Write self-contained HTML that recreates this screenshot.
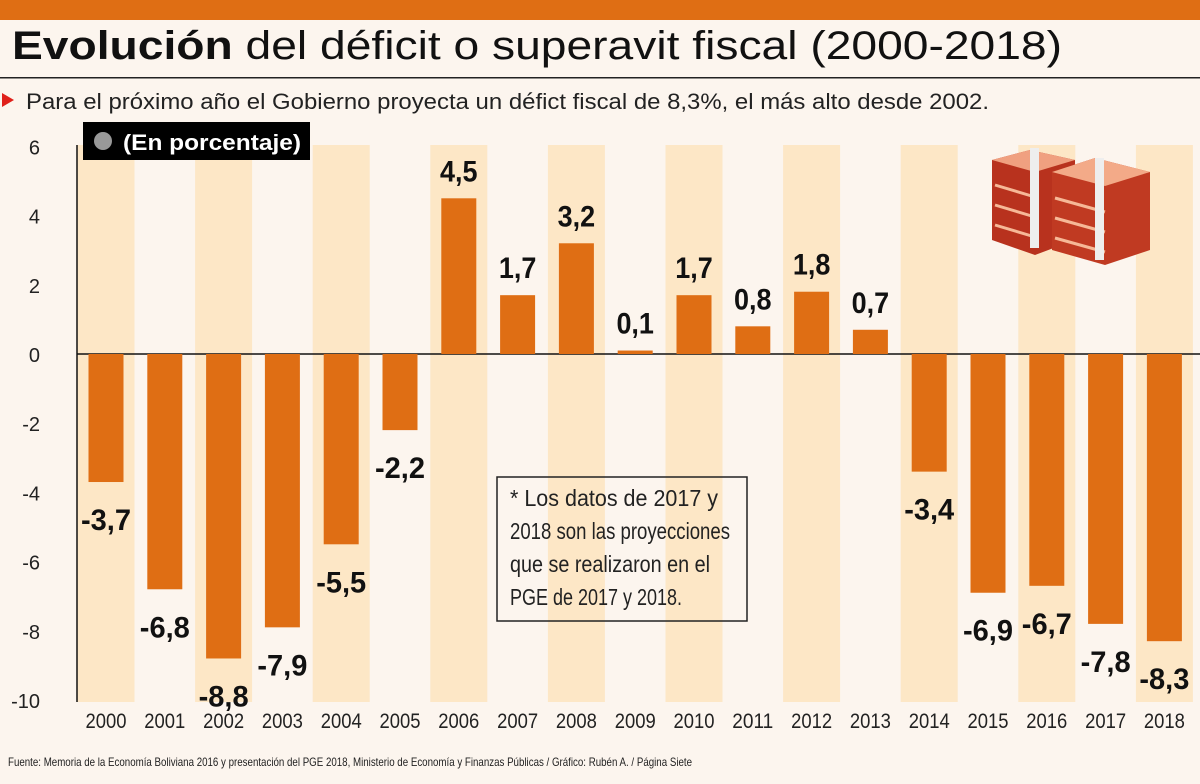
<!DOCTYPE html>
<html><head><meta charset="utf-8"><style>
body{margin:0;width:1200px;height:779px;background:#fcf5ee;overflow:hidden;font-family:"Liberation Sans",sans-serif}
</style></head><body>
<svg width="1200" height="779" xmlns="http://www.w3.org/2000/svg">
<rect x="0" y="0" width="1200" height="20" fill="#df6e14"/>
<text x="12" y="59" font-size="40" fill="#111" textLength="1050" lengthAdjust="spacingAndGlyphs"><tspan font-weight="bold">Evolución</tspan> del déficit o superavit fiscal (2000-2018)</text>
<rect x="0" y="77" width="1200" height="1.5" fill="#222"/>
<polygon points="2,93 14,100 2,107" fill="#e0201a"/>
<text x="26" y="109" font-size="22" fill="#222" textLength="963" lengthAdjust="spacingAndGlyphs">Para el próximo año el Gobierno proyecta un défict fiscal de 8,3%, el más alto desde 2002.</text>
<g id="stripes"></g>
<line x1="77" y1="145" x2="77" y2="702" stroke="#111" stroke-width="1.5"/>
<line x1="77" y1="354" x2="1200" y2="354" stroke="#111" stroke-width="1.5"/>
<g id="ticks"></g><g id="bars"></g>
<rect x="83" y="122" width="227" height="38" fill="#000"/>
<circle cx="103" cy="141" r="9" fill="#999"/>
<text x="123" y="150" font-size="22" font-weight="bold" fill="#fff" textLength="178" lengthAdjust="spacingAndGlyphs">(En porcentaje)</text>
<g>
<polygon points="992,160 1030,150 1075,160 1075,240 1035,255 992,240" fill="#b8321e"/>
<polygon points="992,160 1030,150 1075,160 1035,172" fill="#f0a080"/>
<polygon points="1052,172 1095,158 1150,172 1150,250 1105,265 1052,250" fill="#c03a22"/>
<polygon points="1052,172 1095,158 1150,172 1105,186" fill="#f3aa88"/>
<g stroke="#f6b897" stroke-width="3">
<line x1="995" y1="185" x2="1035" y2="197"/><line x1="995" y1="205" x2="1035" y2="217"/><line x1="995" y1="225" x2="1035" y2="237"/>
<line x1="1055" y1="198" x2="1105" y2="212"/><line x1="1055" y1="218" x2="1105" y2="232"/><line x1="1055" y1="238" x2="1105" y2="252"/>
</g>
<rect x="1030" y="148" width="9" height="100" fill="#eee"/>
<rect x="1095" y="158" width="9" height="102" fill="#eee"/>
</g>
<rect x="497" y="477" width="250" height="144" fill="none" stroke="#222" stroke-width="1.5"/>
<g font-size="23" fill="#222">
<text x="510" y="506" textLength="208" lengthAdjust="spacingAndGlyphs">* Los datos de 2017 y</text><text x="510" y="539" textLength="220" lengthAdjust="spacingAndGlyphs">2018 son las proyecciones</text>
<text x="510" y="572" textLength="200" lengthAdjust="spacingAndGlyphs">que se realizaron en el</text><text x="510" y="605" textLength="172" lengthAdjust="spacingAndGlyphs">PGE de 2017 y 2018.</text></g>
<text x="8" y="766" font-size="12" fill="#222" textLength="684" lengthAdjust="spacingAndGlyphs">Fuente: Memoria de la Economía Boliviana 2016 y presentación del PGE 2018, Ministerio de Economía y Finanzas Públicas / Gráfico: Rubén A. / Página Siete</text>
</svg>
<script>
const years=["2000","2001","2002","2003","2004","2005","2006","2007","2008","2009","2010","2011","2012","2013","2014","2015","2016","2017","2018"];
const values=[-3.7,-6.8,-8.8,-7.9,-5.5,-2.2,4.5,1.7,3.2,0.1,1.7,0.8,1.8,0.7,-3.4,-6.9,-6.7,-7.8,-8.3];
const yTicks=[6,4,2,0,-2,-4,-6,-8,-10];
const NS="http://www.w3.org/2000/svg";
const y=v=>354-v*34.6;
const cx=i=>106+58.8*i;
function mk(t,a,p){const e=document.createElementNS(NS,t);for(const k in a)e.setAttribute(k,a[k]);document.getElementById(p).appendChild(e);return e;}
years.forEach((yr,i)=>{
 if(i%2===0){const s=mk('rect',{x:cx(i)-28.5,y:145,width:57,height:557,fill:'#fde7c6'},'stripes');
 
 }
 const v=values[i];
 const b=mk('rect',{x:cx(i)-17.5,y:Math.min(y(v),y(0)),width:35,height:Math.abs(y(v)-y(0)),fill:'#df6e14'},'bars');
 
 
 const txt=v.toFixed(1).replace('.',',');
 const l=mk('text',{x:cx(i),y:v>=0?y(v)-17:y(v)+48,'text-anchor':'middle','font-size':'30','font-weight':'bold',fill:'#111',textLength:String(txt.length*12.5),lengthAdjust:'spacingAndGlyphs'},'bars');
 l.textContent=txt;
 
 
 const t=mk('text',{x:cx(i),y:728,'text-anchor':'middle','font-size':'21',fill:'#222',textLength:'41',lengthAdjust:'spacingAndGlyphs'},'ticks');
 t.textContent=yr;
 
 
});
yTicks.forEach(v=>{
 const t=mk('text',{x:40,y:y(v)+8,'text-anchor':'end','font-size':'20',fill:'#222'},'ticks');
 t.textContent=v;
 
 
});
</script>
</body></html>
